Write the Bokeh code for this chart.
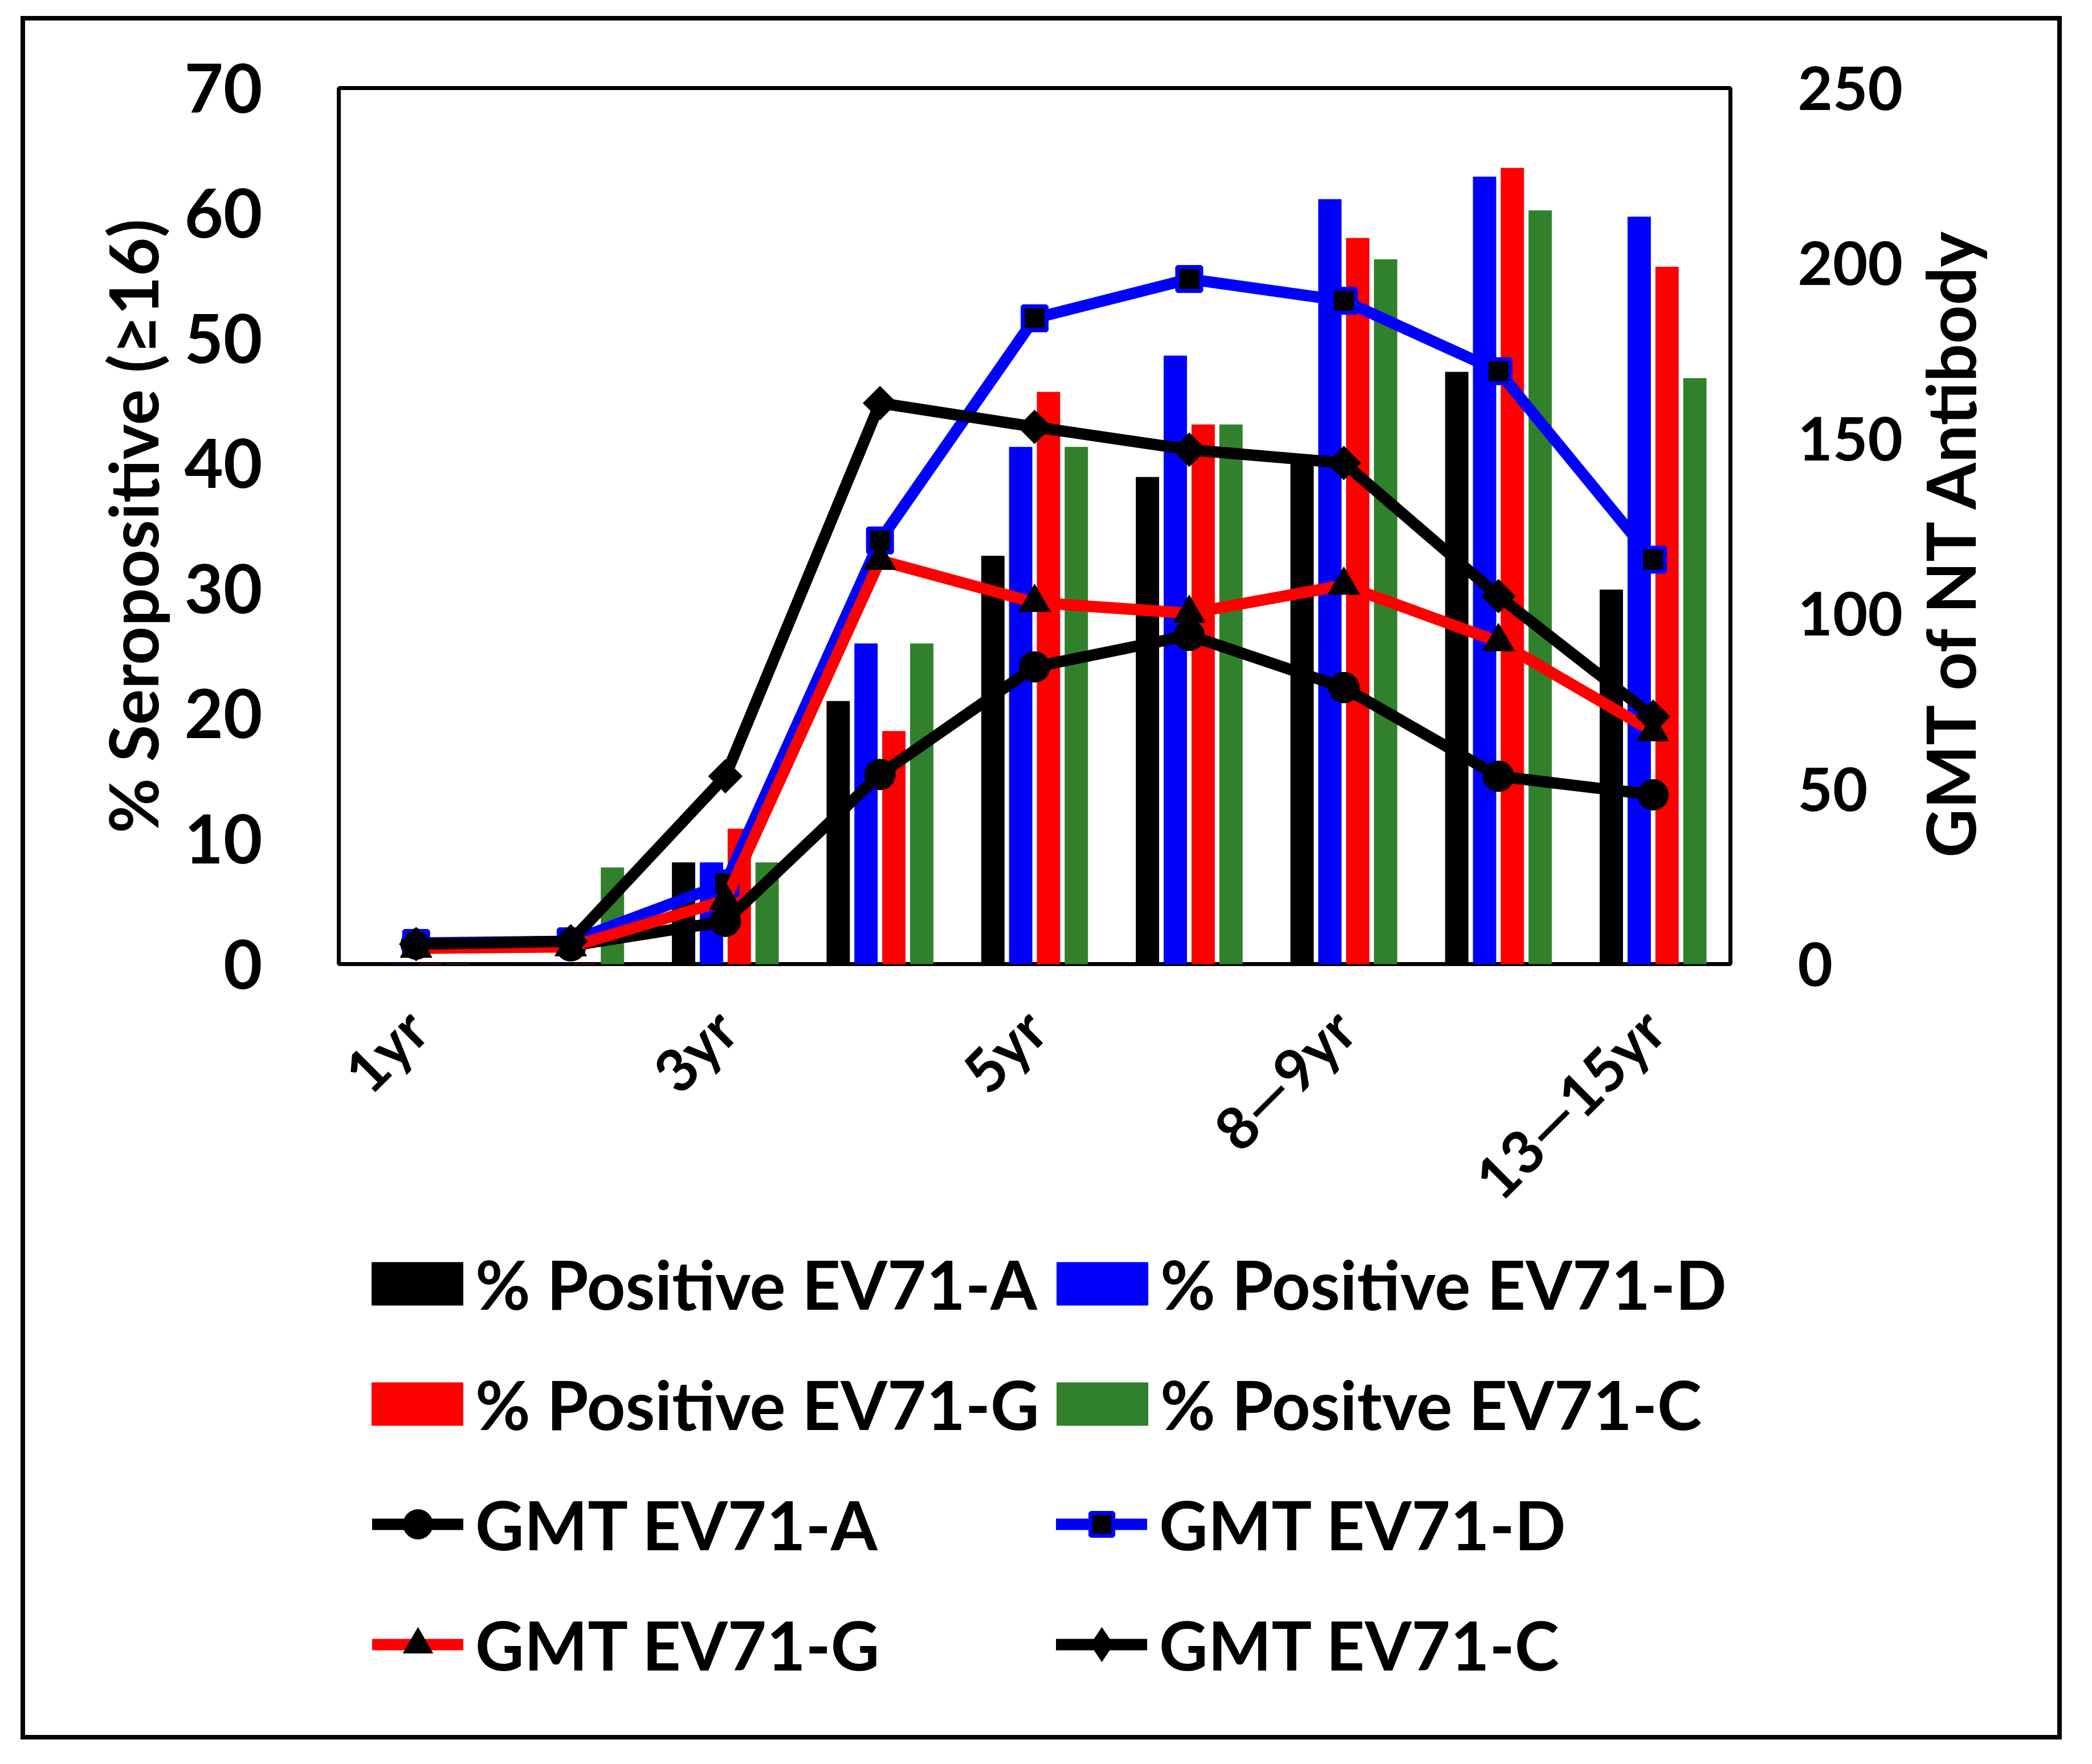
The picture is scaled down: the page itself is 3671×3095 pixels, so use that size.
import math

from bokeh.embed import file_html
from bokeh.layouts import column
from bokeh.models import ColumnDataSource, FixedTicker, Legend, LegendItem, LinearAxis, Range1d
from bokeh.plotting import figure
from bokeh.resources import INLINE
from bokeh.transform import dodge

# age groups (only every other one gets a tick label, like the original)
ages = ["1yr", "2yr", "3yr", "4yr", "5yr", "6—7yr", "8—9yr", "10—12yr", "13—15yr"]

# % seropositive (left axis)
pos_a = [0, 0, 8.1, 21.0, 32.6, 38.9, 40.0, 47.3, 29.9]
pos_d = [0, 0, 8.1, 25.6, 41.3, 48.6, 61.1, 62.9, 59.7]
pos_g = [0, 0, 10.8, 18.6, 45.7, 43.1, 58.0, 63.6, 55.7]
pos_c = [0, 7.7, 8.1, 25.6, 41.3, 43.1, 56.3, 60.2, 46.8]

# GMT of NT antibody (right axis)
gmt_a = [5.7, 5.2, 12.2, 54.1, 84.8, 93.8, 78.9, 53.6, 48.3]
gmt_d = [6.0, 6.5, 23.0, 120.9, 184.3, 195.5, 189.3, 169.2, 115.4]
gmt_g = [4.5, 4.9, 18.2, 115.2, 103.2, 100.1, 108.1, 92.0, 66.3]
gmt_c = [5.7, 6.5, 53.6, 160.1, 153.3, 146.8, 143.0, 105.0, 70.6]

FONT = "Lato"
BLUE = "#0000ff"
RED = "#ff0000"
GREEN = "#31812c"

src = ColumnDataSource(dict(
    x=list(range(1, len(ages) + 1)),
    pos_a=pos_a, pos_d=pos_d, pos_g=pos_g, pos_c=pos_c,
    gmt_a=gmt_a, gmt_d=gmt_d, gmt_g=gmt_g, gmt_c=gmt_c,
))

W = 3566
PH = 2138
p = figure(width=W, height=PH,
           x_range=Range1d(0.5, len(ages) + 0.5), y_range=Range1d(0, 70),
           output_backend="svg", toolbar_location=None,
           min_border_left=550, min_border_right=574,
           min_border_top=118, min_border_bottom=480)
p.extra_y_ranges = {"gmt": Range1d(0, 250)}

p.outline_line_color = "black"
p.outline_line_width = 7
p.xgrid.visible = False
p.ygrid.visible = False

# bars
bw = 0.147
p.vbar(x=dodge("x", -0.27), top="pos_a", width=bw, color="black", source=src)
p.vbar(x=dodge("x", -0.09), top="pos_d", width=bw, color=BLUE, source=src)
p.vbar(x=dodge("x", 0.09), top="pos_g", width=bw, color=RED, source=src)
p.vbar(x=dodge("x", 0.27), top="pos_c", width=bw, color=GREEN, source=src)

# GMT lines
lw = 20
p.line("x", "gmt_a", line_width=lw, color="black", line_join="round", y_range_name="gmt", source=src)
p.scatter("x", "gmt_a", marker="circle", size=54, color="black", y_range_name="gmt", source=src)

p.line("x", "gmt_d", line_width=lw, color=BLUE, line_join="round", y_range_name="gmt", source=src)
p.scatter("x", "gmt_d", marker="square", size=42, fill_color="black", line_color=BLUE,
          line_width=7, y_range_name="gmt", source=src)

p.line("x", "gmt_g", line_width=lw, color=RED, line_join="round", y_range_name="gmt", source=src)
p.scatter("x", "gmt_g", marker="triangle", size=56, color="black", y_range_name="gmt", source=src)

p.line("x", "gmt_c", line_width=lw, color="black", line_join="round", y_range_name="gmt", source=src)
p.scatter("x", "gmt_c", marker="square", angle=math.pi / 4, size=42, color="black",
          y_range_name="gmt", source=src)

# axes
p.xaxis.ticker = FixedTicker(ticks=list(range(1, len(ages) + 1, 2)))
p.xaxis.major_label_overrides = {i + 1: ages[i] for i in range(0, len(ages), 2)}
p.xaxis.major_label_orientation = math.pi / 4
p.xaxis.major_label_standoff = 90
p.xaxis.major_label_text_font_size = "104px"

p.yaxis.ticker = FixedTicker(ticks=list(range(0, 71, 10)))
p.yaxis.axis_label = "% Seropositive (≥16)"
p.yaxis.major_label_standoff = 128
p.yaxis.axis_label_standoff = 18
p.yaxis.major_label_text_font_size = "118px"

right = LinearAxis(y_range_name="gmt", ticker=FixedTicker(ticks=list(range(0, 251, 50))))
right.major_label_standoff = 112
right.major_label_text_font_size = "106px"
right.axis_label_standoff = 80
# right title has to read bottom to top
right.axis_label_orientation = math.pi / 2
if "axis_label_align" in right.properties():
    right.axis_label_align = "start"
    right.axis_label = "\u00a0" * 6 + "\u2009" + "GMT of NT Antibody"
else:
    right.axis_label = "GMT of NT Antibody"
p.add_layout(right, "right")

for ax in p.xaxis + p.yaxis + [right]:
    ax.axis_line_color = None
    ax.major_tick_line_color = None
    ax.minor_tick_line_color = None
    ax.major_label_text_font = FONT
    ax.major_label_text_font_style = "bold"
    ax.major_label_text_color = "black"
    ax.axis_label_text_font = FONT
    ax.axis_label_text_font_style = "bold"
    ax.axis_label_text_font_size = "118px"
    ax.axis_label_text_color = "black"

# legend strip below the chart (its own canvas, so it does not squeeze the plot area)
LH = 3008 - PH
pl = figure(width=W, height=LH, x_range=(-3, -2), y_range=(0, 1),
            x_axis_type=None, y_axis_type=None, output_backend="svg",
            toolbar_location=None, min_border=0)
pl.outline_line_color = None
pl.grid.visible = False

x_base = 602
for fig in (p, pl):
    if "frame_align" in fig.properties():
        fig.frame_align = False
        x_base = 52

legend_rows = [
    # label, series column, colour, marker, legend column, legend row
    ("% Positive EV71-A", "pos_a", "black", None, 0, 0),
    ("% Positive EV71-D", "pos_d", BLUE, None, 1, 0),
    ("% Positive EV71-G", "pos_g", RED, None, 0, 1),
    ("% Positve EV71-C", "pos_c", GREEN, None, 1, 1),
    ("GMT EV71-A", "gmt_a", "black", "circle", 0, 2),
    ("GMT EV71-D", "gmt_d", BLUE, "square", 1, 2),
    ("GMT EV71-G", "gmt_g", RED, "triangle", 0, 3),
    ("GMT EV71-C", "gmt_c", "black", "diamond", 1, 3),
]
col_x = {("bar", 0): 640, ("bar", 1): 1842, ("line", 0): 661, ("line", 1): 1861}
row_y = [712, 501, 290, 79]
marker_box = {"circle": 130, "square": 100, "triangle": 130, "diamond": 150}

# the swatches reuse the real series, but this canvas' x range keeps them out of view
for label, field, color, marker, col, row in legend_rows:
    if marker is None:
        kind = "bar"
        rs = [pl.vbar(x="x", top=field, width=bw, color=color, source=src)]
        gw, gh = 200, 94
    else:
        kind = "line"
        rs = [pl.line("x", field, line_width=lw, color=color, line_cap="round", source=src)]
        if marker == "square":
            rs.append(pl.scatter("x", field, marker="square", fill_color="black",
                                 line_color=BLUE, line_width=7, source=src))
        else:
            rs.append(pl.scatter("x", field, marker=marker, color="black", source=src))
        gw, gh = 160, marker_box[marker]
    lg = Legend(items=[LegendItem(label=label, renderers=rs)],
                location=(col_x[(kind, col)] - x_base, row_y[row]))
    lg.glyph_width = gw
    lg.glyph_height = gh
    lg.label_height = 160
    lg.label_standoff = 2 if kind == "bar" else 21
    lg.padding = 0
    lg.margin = 0
    lg.spacing = 0
    lg.border_line_color = None
    lg.background_fill_alpha = 0
    lg.label_text_font = FONT
    lg.label_text_font_style = "bold"
    lg.label_text_font_size = "118px"
    lg.label_text_color = "black"
    pl.add_layout(lg, "center")

lay = column(p, pl)
lay.styles = {"border": "8px solid black", "margin-left": "36px", "margin-top": "28px"}

open("out.html", "w").write(file_html(lay, INLINE))
